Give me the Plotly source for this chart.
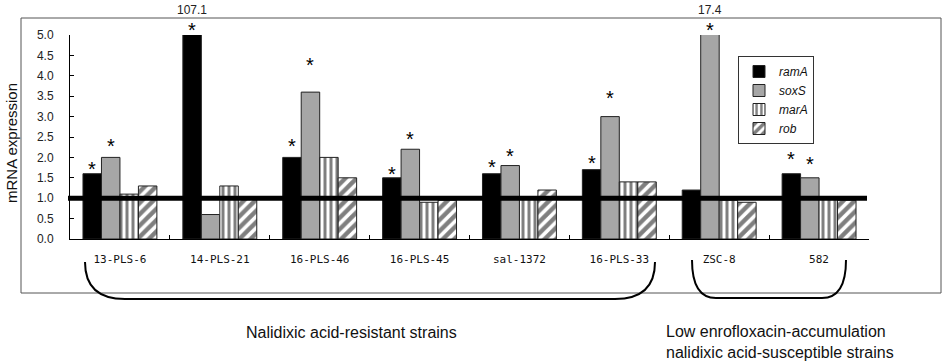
import plotly.graph_objects as go

categories = ["13-PLS-6", "14-PLS-21", "16-PLS-46", "16-PLS-45", "sal-1372", "16-PLS-33", "ZSC-8", "582"]
ramA = [1.6, 107.1, 2.0, 1.5, 1.6, 1.7, 1.2, 1.6]
soxS = [2.0, 0.6, 3.6, 2.2, 1.8, 3.0, 17.4, 1.5]
marA = [1.1, 1.3, 2.0, 0.9, 1.0, 1.4, 0.95, 1.0]
rob = [1.3, 1.0, 1.5, 0.95, 1.2, 1.4, 0.9, 0.95]
# heights of significance asterisks (None = not significant)
ramA_star = [1.80, 5.19, 2.36, 1.67, 1.84, 1.94, None, 2.03]
soxS_star = [2.35, None, 4.33, 2.53, 2.12, 3.53, 5.20, 1.91]
baseline = 1.0
y_max = 5.0
y_ticks = [0.0, 0.5, 1.0, 1.5, 2.0, 2.5, 3.0, 3.5, 4.0, 4.5, 5.0]
group_labels = ["Nalidixic acid-resistant strains",
                "Low enrofloxacin-accumulation<br>nalidixic acid-susceptible strains"]

W, H = 945, 363
# plot area in page pixels
X0, X1, Y0, Y1 = 70, 869, 35, 239
L, T = X0, Y0
R, B = W - X1, H - Y1
PW, PH = X1 - X0, Y1 - Y0


def px(x):
    return (x - X0) / PW


def py(y):
    return (Y1 - y) / PH


fig = go.Figure()
line_style = dict(color="#222", width=1)
fig.add_bar(name="ramA", x=categories, y=ramA, marker=dict(color="black", line=line_style))
fig.add_bar(name="soxS", x=categories, y=soxS, marker=dict(color="#a6a6a6", line=line_style))
fig.add_bar(name="marA", x=categories, y=marA,
            marker=dict(color="white", line=line_style,
                        pattern=dict(shape="|", fgcolor="black", bgcolor="white", size=6, solidity=0.5)))
fig.add_bar(name="rob", x=categories, y=rob,
            marker=dict(color="white", line=line_style,
                        pattern=dict(shape="/", fgcolor="black", bgcolor="white", size=8, solidity=0.55)))

bargap = 0.26
bar_w = PW / len(categories) * (1 - bargap) / 4
offsets = [(-1.5 + i) * bar_w for i in range(4)]

annotations = []
for series_i, stars in [(0, ramA_star), (1, soxS_star)]:
    for i, s in enumerate(stars):
        if s is not None:
            annotations.append(dict(x=i, y=s / y_max, xref="x", yref="paper", text="*", showarrow=False,
                                    xshift=offsets[series_i], yshift=-3, yanchor="middle",
                                    font=dict(size=20, color="black", family="Liberation Sans")))
# off-scale value labels
for series_i, vals in [(0, ramA), (1, soxS)]:
    for i, v in enumerate(vals):
        if v > y_max:
            annotations.append(dict(x=i, y=py(10), xref="x", yref="paper", text=f"{v}", showarrow=False,
                                    xshift=offsets[series_i], yanchor="middle",
                                    font=dict(size=12, color="#222", family="Liberation Sans")))

annotations.append(dict(x=px(11), y=py(143), xref="paper", yref="paper", text="mRNA expression",
                        textangle=-90, showarrow=False, xanchor="center", yanchor="middle",
                        font=dict(size=15, color="#111", family="Liberation Sans")))
annotations.append(dict(x=px(351), y=py(332), xref="paper", yref="paper", text=group_labels[0],
                        showarrow=False, xanchor="center", yanchor="middle",
                        font=dict(size=16, color="#111", family="Liberation Sans")))
annotations.append(dict(x=px(664), y=py(342), xref="paper", yref="paper", text=group_labels[1],
                        showarrow=False, xanchor="left", yanchor="middle", align="left",
                        font=dict(size=16, color="#111", family="Liberation Sans")))


def path(points):
    (x0, y0), (cx0, cy0), (x1, y1), (x2, y2), (cx1, cy1), (x3, y3) = points
    return (f"M {px(x0)},{py(y0)} Q {px(cx0)},{py(cy0)} {px(x1)},{py(y1)} "
            f"L {px(x2)},{py(y2)} Q {px(cx1)},{py(cy1)} {px(x3)},{py(y3)}")


shapes = [
    dict(type="rect", xref="paper", yref="paper", x0=px(21), x1=px(941), y0=py(293), y1=py(18),
         line=dict(color="#555", width=1), layer="below"),
    dict(type="line", xref="paper", yref="y", x0=px(68), x1=px(867), y0=baseline, y1=baseline,
         line=dict(color="black", width=5), layer="above"),
    dict(type="path", xref="paper", yref="paper",
         path=path([(85, 262), (85, 299), (125, 299), (615, 299), (655, 299), (655, 262)]),
         line=dict(color="black", width=2)),
    dict(type="path", xref="paper", yref="paper",
         path=path([(692, 260), (692, 298), (716, 298), (822, 298), (846, 298), (846, 260)]),
         line=dict(color="black", width=2)),
]

fig.update_layout(
    width=W, height=H,
    margin=dict(l=L, r=R, t=T, b=B),
    paper_bgcolor="white", plot_bgcolor="white",
    barmode="group", bargap=bargap, bargroupgap=0,
    showlegend=True,
    legend=dict(x=px(738), y=py(56), xanchor="left", yanchor="top",
                bordercolor="#333", borderwidth=1, bgcolor="white",
                font=dict(size=12, style="italic", family="Liberation Sans", color="#111"),
                itemwidth=30, tracegroupgap=0),
    annotations=annotations,
    shapes=shapes,
    font=dict(family="Liberation Sans"),
)
fig.update_yaxes(range=[0, y_max], tickvals=y_ticks, tickformat=".1f",
                 showline=True, linecolor="black", linewidth=1,
                 ticks="inside", ticklen=4, tickcolor="black",
                 showgrid=False, zeroline=False, ticklabelstandoff=13,
                 tickfont=dict(size=12, color="#222", family="Liberation Sans"))
fig.update_xaxes(type="category", categoryorder="array", categoryarray=categories,
                 range=[-0.5, len(categories) - 0.5], autorange=False,
                 showline=True, linecolor="black", linewidth=1,
                 ticks="inside", ticklen=4, tickcolor="black", tickson="boundaries",
                 showgrid=False, ticklabelstandoff=10, tickangle=0,
                 tickfont=dict(size=11, color="#111", family="DejaVu Sans Mono"))

fig.write_html("out.html", config={"displayModeBar": False},
               post_script="document.body.style.margin='0px';")
